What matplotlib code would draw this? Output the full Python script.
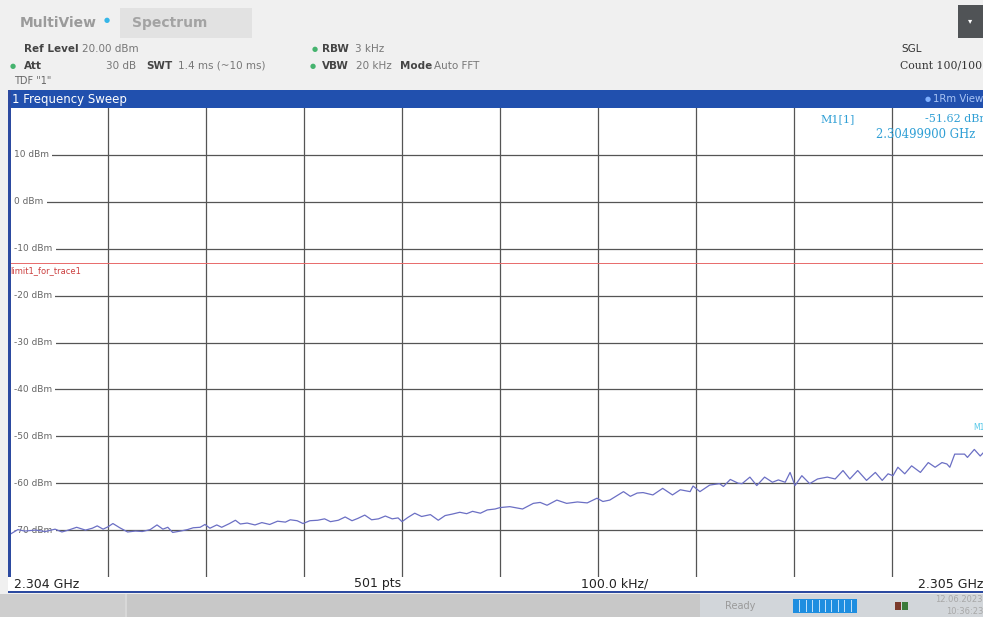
import numpy as np
import matplotlib
matplotlib.use("Agg")
from matplotlib import pyplot as plt
from matplotlib.patches import Rectangle

# trace vertices: offset from 2.304 GHz in kHz, level in dBm
freq_khz = [0, 8, 15, 26, 36, 46, 53, 61, 68, 77, 84, 89, 95, 100, 105, 112, 120, 128,
            135, 143, 150, 156, 161, 166, 174, 181, 187, 194, 199, 204, 211, 216, 224,
            230, 235, 242, 250, 257, 265, 273, 281, 286, 293, 299, 306, 314, 321, 327,
            335, 342, 349, 355, 362, 369, 376, 383, 390, 396, 400, 406, 413, 420, 429,
            437, 444, 451, 459, 466, 472, 480, 487, 495, 500, 510, 520, 523, 534, 541,
            548, 558, 568, 579, 589, 599, 605, 612, 626, 633, 640, 646, 656, 666, 676,
            684, 694, 697, 704, 714, 724, 728, 735, 743, 747, 755, 762, 770, 778, 784,
            791, 796, 801, 808, 816, 824, 834, 842, 850, 857, 865, 874, 883, 890, 896,
            901, 906, 913, 920, 929, 937, 944, 951, 956, 959, 964, 974, 977, 984, 990,
            995, 999, 1000]
level_dbm = [-70.9, -69.9, -70.2, -70.0, -70.3, -69.8, -70.4, -69.9, -69.4, -70.0, -69.6,
             -69.1, -69.8, -69.3, -68.6, -69.5, -70.4, -70.2, -70.3, -69.9, -68.9, -69.8,
             -69.4, -70.5, -70.2, -69.9, -69.5, -69.4, -68.8, -69.6, -68.9, -69.4, -68.6,
             -67.9, -68.7, -68.5, -68.9, -68.4, -68.8, -68.1, -68.3, -67.8, -68.0, -68.6,
             -68.0, -67.9, -67.6, -68.2, -67.9, -67.2, -68.0, -67.5, -66.8, -67.8, -67.6,
             -67.0, -67.6, -67.4, -68.2, -67.3, -66.4, -67.1, -66.7, -67.9, -66.9, -66.6,
             -66.2, -66.5, -66.0, -66.4, -65.7, -65.5, -65.2, -65.0, -65.4, -65.5, -64.3,
             -64.1, -64.7, -63.6, -64.3, -64.0, -64.2, -63.2, -63.9, -63.6, -61.8, -62.8,
             -62.1, -62.0, -62.5, -61.1, -62.5, -61.4, -61.8, -60.6, -61.8, -60.4, -60.1,
             -60.7, -59.2, -60.0, -60.1, -58.7, -60.5, -58.7, -59.8, -59.3, -59.8, -57.7,
             -60.5, -58.4, -60.1, -59.1, -58.7, -59.1, -57.3, -59.1, -57.3, -59.4, -57.7,
             -59.4, -58.0, -58.4, -56.6, -58.0, -56.3, -57.7, -55.6, -56.6, -55.6, -55.9,
             -56.6, -53.8, -53.8, -54.5, -52.8, -54.2, -53.1, -51.6, -52.0]

y_ticks = [10, 0, -10, -20, -30, -40, -50, -60, -70]
y_labels = ["10 dBm", "0 dBm", "-10 dBm", "-20 dBm", "-30 dBm", "-40 dBm",
            "-50 dBm", "-60 dBm", "-70 dBm"]
limit_dbm = -13.0
x_grid = [100, 200, 300, 400, 500, 600, 700, 800, 900]

W, H = 983, 617


def fx(x):
    return x / W


def fy(y):
    return 1 - y / H


def rect(x0, y0, x1, y1, color, **kw):
    fig.patches.append(Rectangle((fx(x0), fy(y1)), (x1 - x0) / W, (y1 - y0) / H,
                                 transform=fig.transFigure, facecolor=color,
                                 edgecolor="none", **kw))


def txt(x, y, s, **kw):
    kw.setdefault("va", "center")
    kw.setdefault("fontsize", 7.5)
    fig.text(fx(x), fy(y), s, **kw)


fig = plt.figure(figsize=(9.83, 6.17), dpi=100, facecolor="#f0f0f0")

# header
rect(120, 8, 252, 38, "#e2e2e2")
rect(958, 5, 983, 38, "#505356")
txt(968, 21, "▾", color="white", fontsize=6)
txt(20, 23, "MultiView", color="#9b9b9b", fontsize=10, fontweight="bold")
txt(104, 20, "●", color="#35b6e8", fontsize=5)
txt(132, 23, "Spectrum", color="#a3a3a3", fontsize=10, fontweight="bold")

txt(24, 49, "Ref Level", color="#444444", fontweight="bold")
txt(82, 49, "20.00 dBm", color="#777777")
txt(312, 49, "●", color="#45b36e", fontsize=5)
txt(322, 49, "RBW", color="#444444", fontweight="bold")
txt(355, 49, "3 kHz", color="#777777")
txt(901, 49, "SGL", color="#333333")

txt(10, 66, "●", color="#45b36e", fontsize=5)
txt(24, 66, "Att", color="#444444", fontweight="bold")
txt(106, 66, "30 dB", color="#777777")
txt(146, 66, "SWT", color="#444444", fontweight="bold")
txt(178, 66, "1.4 ms (~10 ms)", color="#777777")
txt(310, 66, "●", color="#45b36e", fontsize=5)
txt(322, 66, "VBW", color="#444444", fontweight="bold")
txt(356, 66, "20 kHz", color="#777777")
txt(400, 66, "Mode", color="#444444", fontweight="bold")
txt(434, 66, "Auto FFT", color="#777777")
txt(900, 66, "Count 100/100", color="#333333", family="DejaVu Serif", fontsize=7.8)
txt(14, 81, 'TDF "1"', color="#666666", fontsize=7)

# title bar and frame
rect(8, 90, 983, 108, "#2150ae")
txt(12, 99, "1 Frequency Sweep", color="white", fontsize=8.5)
txt(925, 99, "●", color="#7fb0ff", fontsize=5)
txt(933, 99, "1Rm View", color="#a9c4f5", fontsize=7.3)
rect(8, 90, 11, 593, "#2c4aa0")
rect(8, 577, 983, 592, "white")
rect(8, 591, 983, 593, "#2c4aa0")

# plot area
ax = fig.add_axes([fx(10), fy(577), 980 / W, 469 / H])
ax.set_xlim(0, 1000)
ax.set_ylim(-80, 20)
ax.set_facecolor("white")
for s in ax.spines.values():
    s.set_visible(False)
ax.set_xticks([])
ax.set_yticks([])
for xg in x_grid:
    ax.axvline(xg, color="#555555", lw=0.9, zorder=1)
for yt, lab in zip(y_ticks, y_labels):
    ax.axhline(yt, color="#555555", lw=0.9, zorder=1)
    ax.text(4, yt, lab, fontsize=6.5, color="#666666", va="center", ha="left", zorder=2,
            bbox=dict(facecolor="white", edgecolor="none", pad=2.5))
ax.axhline(limit_dbm, color="#e86a6a", lw=0.7, zorder=2)
ax.text(0, limit_dbm - 1.6, "limit1_for_trace1", fontsize=6, color="#cc4040",
        va="center", ha="left", zorder=2)
ax.plot(freq_khz, level_dbm, color="#6b6fc4", lw=0.9, zorder=3)

# marker readout
txt(820, 119, "M1[1]", color="#2f9fd5", family="DejaVu Serif", fontsize=8)
txt(925, 119, "-51.62 dBm", color="#2f9fd5", family="DejaVu Serif", fontsize=8)
txt(876, 135, "2.30499900 GHz", color="#2f9fd5", family="DejaVu Serif", fontsize=8.4)
txt(973, 428, "M1", color="#56c8e8", fontsize=5.5)

# frequency axis bar
txt(14, 584, "2.304 GHz", color="#222222", fontsize=9)
txt(378, 584, "501 pts", color="#222222", fontsize=9, ha="center")
txt(615, 584, "100.0 kHz/", color="#222222", fontsize=9, ha="center")
txt(983, 584, "2.305 GHz", color="#222222", fontsize=9, ha="right")

# status bar
rect(0, 594, 983, 617, "#c8c8c8")
rect(0, 594, 125, 617, "#cecece")
rect(125, 594, 127, 617, "#d8d8d8")
rect(700, 594, 983, 617, "#d2d6da")
txt(725, 606, "Ready", color="#9a9a9a", fontsize=7)
rect(793, 599, 857, 613, "#1e8ee0")
for i in range(1, 10):
    rect(793 + i * 6.4, 600, 793 + i * 6.4 + 1, 612, "#bfe0fa")
rect(895, 602, 901, 610, "#7a3a2a")
rect(902, 602, 908, 610, "#3a7a3a")
txt(983, 600, "12.06.2023", color="#a8a8a8", fontsize=6, ha="right")
txt(983, 611, "10:36:23", color="#a8a8a8", fontsize=6, ha="right")

fig.savefig("out.png", dpi=100, facecolor=fig.get_facecolor())
